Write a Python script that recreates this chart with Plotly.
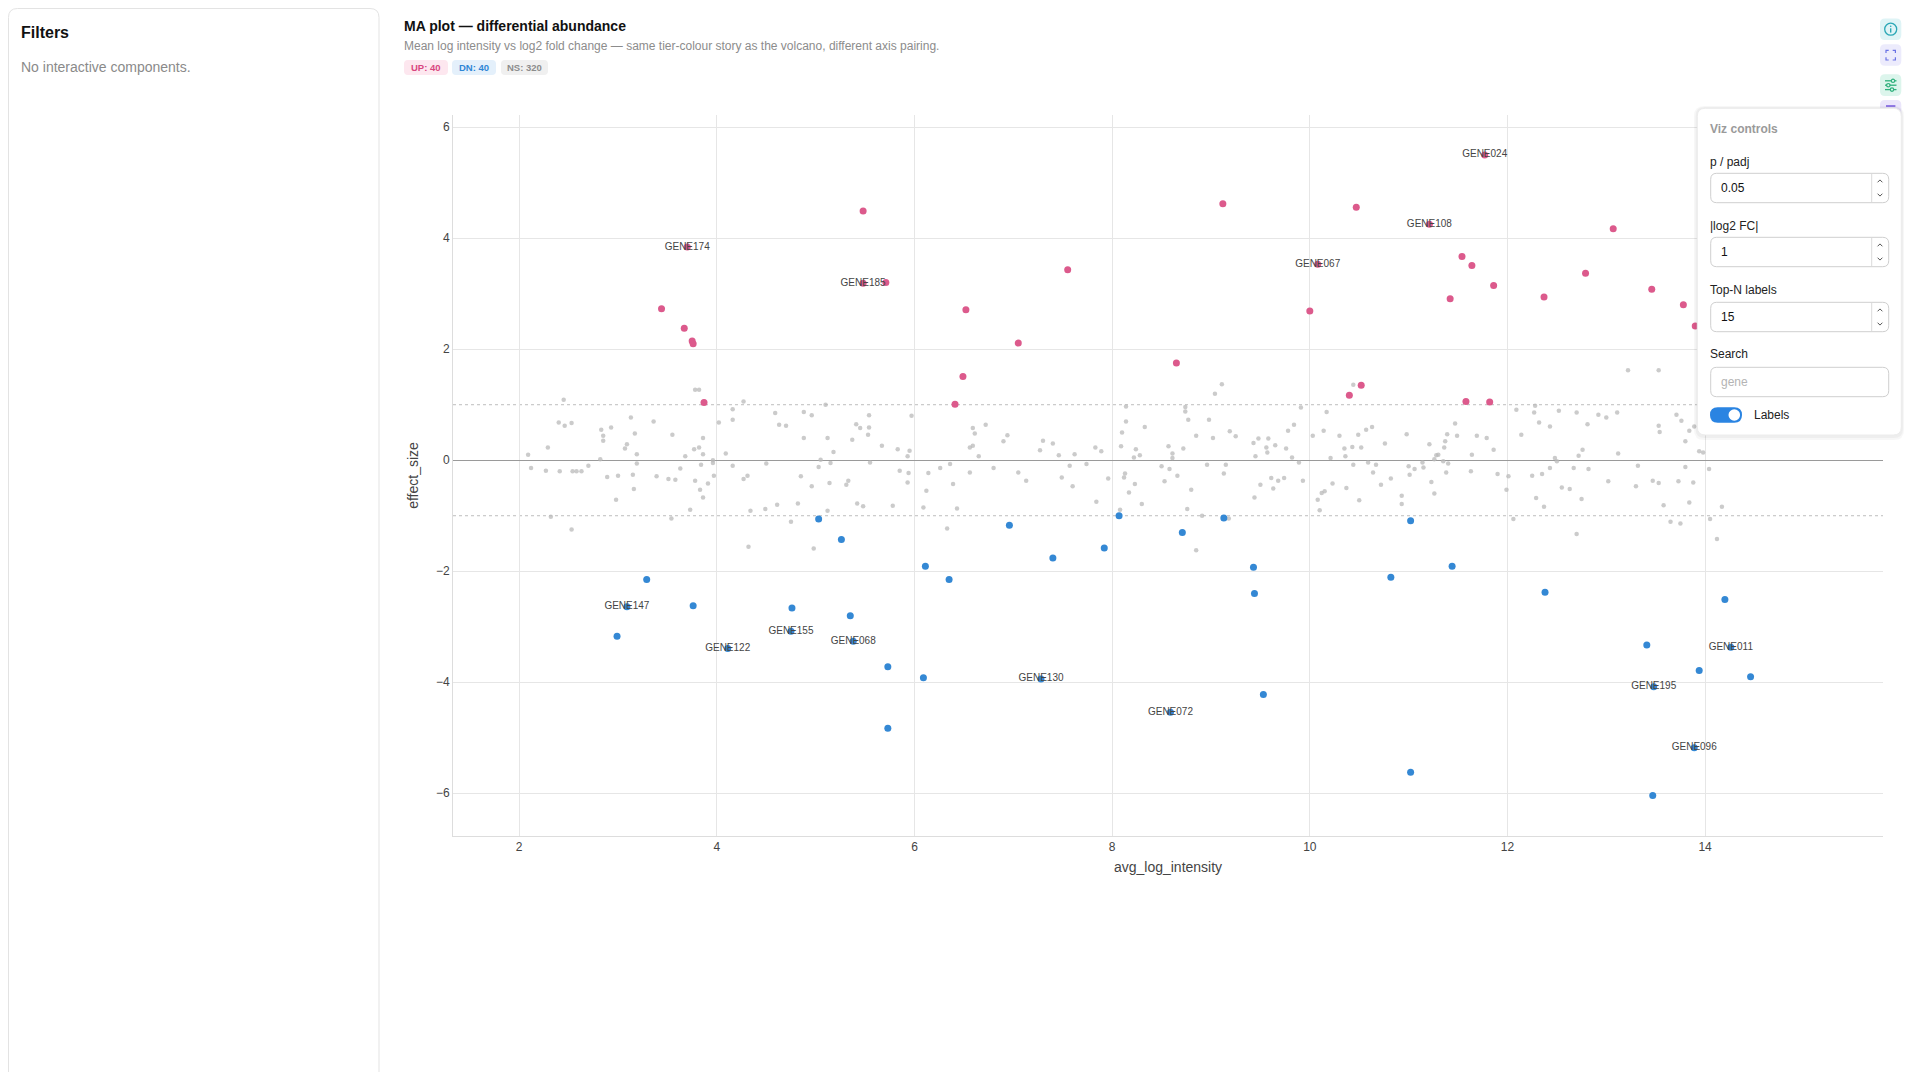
import plotly.graph_objects as go

# ---- data ----
UP_X = [11.77, 11.21, 11.54, 11.64, 11.86, 11.42, 12.37, 3.70, 3.44, 3.67, 3.75, 3.76,
        3.87, 5.48, 5.48, 5.71, 6.52, 6.49, 6.41, 7.05, 7.55, 8.65, 9.12, 10.08,
        10.00, 10.47, 10.40, 10.52, 11.58, 11.82, 12.79, 13.07, 13.46, 13.78, 13.90]
UP_Y = [5.50, 4.25, 3.67, 3.51, 3.15, 2.91, 2.94, 3.84, 2.73, 2.38, 2.15, 2.10,
        1.04, 4.49, 3.19, 3.20, 2.71, 1.51, 1.01, 2.11, 3.43, 1.75, 4.62, 3.53,
        2.69, 4.56, 1.17, 1.35, 1.06, 1.05, 3.37, 4.17, 3.08, 2.80, 2.42]
UP_LABEL = ["GENE024", "GENE108", "", "", "", "", "", "GENE174", "", "", "", "",
            "", "", "GENE185", "", "", "", "", "", "", "", "", "GENE067",
            "", "", "", "", "", "", "", "", "", "", ""]

DN_X = [3.29, 3.09, 3.76, 2.99, 4.11, 5.03, 5.26, 4.76, 4.75, 5.35, 5.38, 5.73, 5.73,
        6.09, 6.11, 6.35, 6.96, 7.40, 7.28, 7.92, 8.07, 8.71, 8.59, 9.13, 9.43, 9.44,
        9.53, 10.82, 11.02, 11.02, 11.44, 12.38, 13.41, 13.48, 13.47, 13.94, 13.89,
        14.20, 14.26, 14.46]
DN_Y = [-2.15, -2.64, -2.62, -3.17, -3.39, -1.06, -1.43, -2.66, -3.08, -2.80, -3.26,
        -3.72, -4.83, -3.92, -1.91, -2.15, -1.17, -1.76, -3.94, -1.58, -1.00, -1.30,
        -4.54, -1.04, -1.93, -2.40, -4.22, -2.11, -5.62, -1.09, -1.91, -2.38, -3.33,
        -4.08, -6.04, -3.79, -5.18, -2.51, -3.37, -3.90]
DN_LABEL = ["", "GENE147", "", "", "GENE122", "", "", "", "GENE155", "", "GENE068",
            "", "", "", "", "", "", "", "GENE130", "", "", "", "GENE072", "", "", "",
            "", "", "", "", "", "", "", "GENE195", "", "", "GENE096", "", "GENE011", ""]

NS_PTS = [
    (2.09, 0.10), (2.12, -0.14), (2.27, -0.19), (2.29, 0.23), (2.32, -1.02), (2.40, 0.68),
    (2.41, -0.20), (2.45, 1.09), (2.46, 0.62), (2.53, 0.67), (2.53, -1.25), (2.54, -0.20),
    (2.58, -0.20), (2.63, -0.20), (2.70, -0.10), (2.82, 0.02), (2.83, 0.55), (2.85, 0.44),
    (2.85, 0.35), (2.89, -0.30), (2.93, 0.59), (2.98, -0.71), (3.00, -0.28), (3.07, 0.21),
    (3.09, 0.29), (3.13, 0.77), (3.15, -0.26), (3.16, -0.52), (3.17, 0.48), (3.19, 0.11),
    (3.19, -0.06), (3.36, 0.70), (3.39, -0.29), (3.51, -0.34), (3.54, -1.05), (3.55, 0.46),
    (3.58, -0.35), (3.63, -0.15), (3.68, 0.07), (3.73, -0.89), (3.77, 0.20), (3.78, 1.27),
    (3.82, 1.27), (3.78, -0.37), (3.82, 0.23), (3.83, -0.53), (3.84, -0.08), (3.86, 0.40),
    (3.86, 0.11), (3.86, -0.67), (3.91, -0.42), (3.96, 0.00), (3.96, -0.05), (3.97, -0.28),
    (4.02, 0.68), (4.09, 0.12), (4.16, 0.92), (4.16, 0.73), (4.16, -0.10), (4.27, 1.06),
    (4.27, -0.34), (4.31, -0.28), (4.32, -1.56), (4.34, -0.91), (4.49, -0.88), (4.50, -0.06),
    (4.59, 0.85), (4.61, -0.80), (4.63, 0.64), (4.70, 0.62), (4.75, -1.11), (4.82, -0.78),
    (4.85, -0.29), (4.88, 0.87), (4.88, 0.40), (4.96, -0.47), (4.96, 0.81), (4.98, -1.59),
    (5.03, -0.12), (5.05, 0.01), (5.10, 1.00), (5.12, 0.40), (5.12, -0.91), (5.14, -0.41),
    (5.15, -0.05), (5.18, 0.15), (5.31, -0.44), (5.33, -0.37), (5.37, 0.37), (5.41, 0.65),
    (5.42, -0.78), (5.45, 0.58), (5.48, -0.83), (5.53, 0.46), (5.54, 0.81), (5.54, 0.59),
    (5.55, -0.04), (5.67, 0.26), (5.78, -0.82), (5.83, 0.20), (5.85, -0.19), (5.93, 0.07),
    (5.95, 0.17), (5.94, -0.23), (5.93, -0.40), (5.97, 0.80), (6.09, -0.85), (6.12, -0.55),
    (6.14, -0.23), (6.26, -0.14), (6.33, -1.23), (6.36, -0.07), (6.39, -0.43), (6.43, -0.87),
    (6.56, -0.22),
    (6.56, 0.23), (6.59, 0.26), (6.59, 0.58), (6.61, 0.48), (6.65, 0.07), (6.72, 0.64),
    (6.80, -0.14), (6.90, 0.34), (6.94, 0.45), (7.05, -0.22), (7.13, -0.37), (7.27, 0.18),
    (7.30, 0.35), (7.40, 0.30), (7.46, 0.09), (7.49, -0.31), (7.57, -0.10), (7.60, -0.47),
    (7.62, 0.11), (7.74, -0.07), (7.83, 0.23), (7.84, -0.75), (7.89, 0.16), (7.96, -0.33),
    (8.08, -0.89), (8.09, 0.25), (8.10, 0.50), (8.12, -0.31), (8.13, -0.24), (8.14, 0.70),
    (8.14, 0.97), (8.17, -0.58), (8.22, 0.05), (8.23, -0.43), (8.24, 0.20), (8.28, 0.09),
    (8.30, -0.79), (8.33, 0.60), (8.50, -0.11), (8.53, -0.38), (8.57, 0.25), (8.58, -0.16),
    (8.61, 0.12), (8.61, 0.04), (8.66, -0.28), (8.72, 0.21), (8.74, 0.96), (8.74, 0.88),
    (8.77, 0.73), (8.76, -0.88), (8.80, -0.53), (8.85, -1.62), (8.85, 0.44), (8.91, -1.00),
    (8.96, -0.08), (8.98, 0.73), (9.02, 0.40), (9.04, 1.20), (9.11, 1.37), (9.13, -0.24),
    (9.15, -0.08), (9.18, -1.05), (9.19, 0.52), (9.25, 0.43), (9.43, 0.31), (9.44, -0.67),
    (9.45, 0.07), (9.48, 0.39), (9.50, -0.44), (9.56, 0.23), (9.57, 0.14), (9.58, 0.39),
    (9.61, -0.32), (9.63, -0.51), (9.65, 0.27), (9.68, -0.37), (9.74, -0.32), (9.76, 0.21),
    (9.78, 0.53), (9.82, 0.05), (9.84, 0.64), (9.89, -0.04), (9.91, 0.95), (9.93, -0.37),
    (10.03, 0.44), (10.08, -0.71), (10.10, -0.90), (10.12, -0.59), (10.15, -0.56), (10.14, 0.53),
    (10.17, 0.87), (10.21, 0.04), (10.23, -0.42), (10.30, 0.44), (10.35, 0.21), (10.36, 0.07),
    (10.37, -0.50), (10.43, 0.24), (10.44, -0.08), (10.44, 1.36), (10.49, 0.46), (10.50, -0.72),
    (10.52, 0.23), (10.57, 0.55), (10.59, -0.04), (10.63, 0.60), (10.64, -0.22), (10.67, -0.08),
    (10.72, -0.44), (10.76, 0.30), (10.82, -0.33), (10.93, -0.64), (10.93, -0.79), (10.98, 0.47),
    (11.00, -0.11), (11.01, -0.26), (11.06, -0.16), (11.14, -0.04), (11.15, -0.13), (11.21, 0.29),
    (11.23, -0.39), (11.26, -0.60), (11.26, 0.02), (11.28, 0.09), (11.30, 0.10), (11.35, -0.02),
    (11.36, 0.23), (11.37, 0.34), (11.38, -0.22), (11.39, 0.47), (11.40, -0.06), (11.47, 0.66),
    (11.49, 0.44), (11.63, -0.20), (11.64, 0.10), (11.69, 0.44), (11.79, 0.40), (11.86, 0.19),
    (11.90, -0.25), (11.99, -0.53), (12.01, -0.29), (12.06, -1.06), (12.09, 0.91), (12.14, 0.46),
    (12.25, -0.28), (12.27, 0.86), (12.28, 0.98), (12.29, -0.68), (12.32, 0.68), (12.35, -0.25),
    (12.37, -0.84), (12.43, 0.61), (12.43, -0.14), (12.48, 0.04), (12.50, -0.02), (12.52, 0.89),
    (12.55, -0.49), (12.63, -0.52), (12.67, -0.14), (12.70, -1.33), (12.70, 0.86), (12.72, 0.08),
    (12.75, -0.70), (12.76, 0.19), (12.81, 0.65), (12.82, -0.16), (12.92, 0.82), (13.00, 0.77),
    (13.02, -0.38), (13.11, 0.86), (13.12, 0.12), (13.22, 1.62), (13.30, -0.47), (13.32, -0.10),
    (13.47, -0.37), (13.53, 1.62), (13.53, 0.62), (13.54, 0.51), (13.53, -0.41), (13.58, -0.81),
    (13.65, -1.11), (13.71, 0.82), (13.73, -0.38), (13.75, -1.14), (13.76, 0.71), (13.80, 0.34),
    (13.80, -0.12), (13.84, 0.53), (13.84, -0.76), (13.88, -0.40), (13.89, 0.61), (13.94, 0.16),
    (13.98, 0.14), (14.04, -0.16), (14.05, -1.06), (14.12, -1.42), (14.17, -0.84),
]
NS_X = [p[0] for p in NS_PTS]
NS_Y = [p[1] for p in NS_PTS]

FC_CUT = 1
X_TICKS = [2, 4, 6, 8, 10, 12, 14]
Y_TICKS = [-6, -4, -2, 0, 2, 4, 6]

PINK = "#dc5a8c"
BLUE = "#3488d4"
FONT = "Liberation Sans, Arial, sans-serif"

# ---- page geometry (screen px; the page body has an 8px margin) ----
W, H = 1904, 1064
OFF = 8
L, R, T, B = 445, 29, 107, 236
PW, PH = W - L - R, H - T - B


def px(x):
    return (x - OFF - L) / PW


def py(y):
    return 1 - (y - OFF - T) / PH


def rrect(x0, y0, x1, y1, r):
    X = lambda v: f"{px(v):.5f}"
    Y = lambda v: f"{py(v):.5f}"
    return (f"M {X(x0 + r)},{Y(y0)} L {X(x1 - r)},{Y(y0)} Q {X(x1)},{Y(y0)} {X(x1)},{Y(y0 + r)} "
            f"L {X(x1)},{Y(y1 - r)} Q {X(x1)},{Y(y1)} {X(x1 - r)},{Y(y1)} "
            f"L {X(x0 + r)},{Y(y1)} Q {X(x0)},{Y(y1)} {X(x0)},{Y(y1 - r)} "
            f"L {X(x0)},{Y(y0 + r)} Q {X(x0)},{Y(y0)} {X(x0 + r)},{Y(y0)} Z")


def poly(pts):
    return "M " + " L ".join(f"{px(a):.5f},{py(b):.5f}" for a, b in pts)


shapes = []
annos = []


def box(x0, y0, x1, y1, r, fill, line=None, lw=1, layer="above"):
    shapes.append(dict(type="path", path=rrect(x0, y0, x1, y1, r), xref="paper", yref="paper",
                       fillcolor=fill, line=dict(color=line or fill, width=lw if line else 0),
                       layer=layer))


def stroke(pts, color, lw=1.2):
    shapes.append(dict(type="path", path=poly(pts), xref="paper", yref="paper",
                       line=dict(color=color, width=lw), layer="above"))


def dot(cx, cy, r, fill, line=None, lw=1):
    shapes.append(dict(type="circle", xref="paper", yref="paper",
                       x0=px(cx - r), x1=px(cx + r), y0=py(cy + r), y1=py(cy - r),
                       fillcolor=fill, line=dict(color=line or fill, width=lw if line else 0),
                       layer="above"))


def text(x, y, s, size=12, color="#222", xanchor="left", bold=False):
    # annotations carry ~2px of inner padding; pull left-anchored text back onto its edge
    if xanchor == "left":
        x -= 2.5
    annos.append(dict(x=px(x), y=py(y), xref="paper", yref="paper", text=f"<b>{s}</b>" if bold else s,
                      showarrow=False, xanchor=xanchor, yanchor="middle",
                      font=dict(family=FONT, size=size, color=color)))


fig = go.Figure()
fig.add_trace(go.Scatter(x=NS_X, y=NS_Y, mode="markers", hoverinfo="skip",
                         marker=dict(size=4.5, color="rgba(185,185,185,0.75)", line=dict(width=0))))
fig.add_trace(go.Scatter(x=UP_X, y=UP_Y, mode="markers", hoverinfo="skip",
                         marker=dict(size=7, color=PINK, line=dict(width=0))))
fig.add_trace(go.Scatter(x=DN_X, y=DN_Y, mode="markers", hoverinfo="skip",
                         marker=dict(size=7, color=BLUE, line=dict(width=0))))
fig.add_trace(go.Scatter(x=UP_X + DN_X, y=UP_Y + DN_Y, text=UP_LABEL + DN_LABEL, mode="text",
                         textposition="middle center", hoverinfo="skip",
                         textfont=dict(family=FONT, size=10, color="#444")))

# fold-change thresholds
for v in (FC_CUT, -FC_CUT):
    shapes.append(dict(type="line", xref="paper", x0=0, x1=1, yref="y", y0=v, y1=v,
                       line=dict(color="#bdbdbd", width=1, dash="3px,3px"), layer="below"))

# ---- left filters card ----
box(8.5, 8.5, 379, 1090, 9, "white", "#e3e3e3", 1, layer="below")
text(21, 32, "Filters", 16, "#111", bold=True)
text(21, 67, "No interactive components.", 14, "#8a8a8a")

# ---- title block ----
text(404, 26, "MA plot — differential abundance", 14, "#111", bold=True)
text(404, 46, "Mean log intensity vs log2 fold change — same tier-colour story as the volcano, "
              "different axis pairing.", 12, "#8c8c8c")
for x0, x1, bg, fg, s in [(404, 448, "#fde7ef", "#d9467f", "UP: 40"),
                          (452, 496, "#e4f0fb", "#2f86d6", "DN: 40"),
                          (501, 548, "#f0f0f0", "#8c8c8c", "NS: 320")]:
    box(x0, 60, x1, 75, 4, bg, layer="below")
    text((x0 + x1) / 2, 67.5, s, 9.5, fg, xanchor="center", bold=True)

# ---- toolbar icons ----
box(1880, 18.5, 1901.3, 40, 5, "#dff4f6")
dot(1890.7, 29.2, 6, "rgba(0,0,0,0)", "#2aa7b6", 1.3)
dot(1890.7, 26.3, 0.8, "#2aa7b6")
stroke([(1890.7, 28.3), (1890.7, 32.6)], "#2aa7b6", 1.4)

box(1880, 44.3, 1901.3, 65.7, 5, "#ecebfc")
c = "#6a72e4"
stroke([(1886, 53), (1886, 50.3), (1888.7, 50.3)], c)
stroke([(1892.7, 50.3), (1895.4, 50.3), (1895.4, 53)], c)
stroke([(1886, 57.2), (1886, 60), (1888.7, 60)], c)
stroke([(1892.7, 60), (1895.4, 60), (1895.4, 57.2)], c)

box(1880, 74.3, 1901.3, 96, 5, "#dcf5ec")
c = "#2db07b"
for yy, cx in [(80.8, 1893), (85.2, 1888.3), (89.6, 1892)]:
    stroke([(1885, yy), (1896.5, yy)], c, 1.3)
    dot(cx, yy, 1.7, "#dcf5ec", c, 1.2)

box(1880, 100, 1901.3, 121, 5, "#ebe6fb")
stroke([(1886, 106), (1895.4, 106)], "#7b5fe0", 1.6)

# ---- viz controls card ----
box(1694, 106, 1904, 440, 10, "rgba(0,0,0,0.03)")
box(1695.5, 107, 1903, 438, 9, "rgba(0,0,0,0.035)")
box(1697.3, 108.3, 1901.3, 435, 8, "white", "#ececec", 1)
text(1710, 128.5, "Viz controls", 12, "#9a9a9a", bold=True)

fields = [("p / padj", "0.05", 161.7, 173.3, True),
          ("|log2 FC|", "1", 226, 237.3, True),
          ("Top-N labels", "15", 290, 302.3, True),
          ("Search", "gene", 354.3, 367.3, False)]
for label, val, ly, by, spin in fields:
    text(1710, ly, label, 12, "#222")
    box(1710.7, by, 1888.7, by + 29.4, 6, "white", "#cfcfcf", 1)
    text(1721, by + 14.7, val, 12, "#111" if spin else "#b4b4b4")
    if spin:
        shapes.append(dict(type="line", xref="paper", yref="paper", x0=px(1871.7), x1=px(1871.7),
                           y0=py(by + 0.5), y1=py(by + 28.9), line=dict(color="#dadada", width=1),
                           layer="above"))
        stroke([(1877.6, by + 9), (1880, by + 6.6), (1882.4, by + 9)], "#555", 1)
        stroke([(1877.6, by + 20.4), (1880, by + 22.8), (1882.4, by + 20.4)], "#555", 1)

box(1710, 407.3, 1742, 422.7, 7.7, "#2a84e2")
dot(1734.3, 415, 5.8, "white")
text(1754, 415, "Labels", 12, "#222")

axis_common = dict(showgrid=True, gridcolor="#e6e6e6", gridwidth=1, showline=True,
                   linecolor="#dddddd", linewidth=1, ticks="", automargin=False,
                   tickfont=dict(family=FONT, size=12, color="#444"))

fig.update_layout(
    width=W, height=H,
    margin=dict(l=L, r=R, t=T, b=B),
    paper_bgcolor="white", plot_bgcolor="white",
    showlegend=False,
    font=dict(family=FONT, color="#444"),
    xaxis=dict(range=[1.33, 15.80], tickvals=X_TICKS, zeroline=False,
               title=dict(text="avg_log_intensity", font=dict(family=FONT, size=14, color="#444"),
                          standoff=8),
               **axis_common),
    yaxis=dict(range=[-6.77, 6.22], tickvals=Y_TICKS, zeroline=True, zerolinecolor="#9a9a9a",
               zerolinewidth=1,
               title=dict(text="effect_size", font=dict(family=FONT, size=14, color="#444"),
                          standoff=14),
               **axis_common),
    shapes=shapes,
    annotations=annos,
)

fig.write_html("out.html")
